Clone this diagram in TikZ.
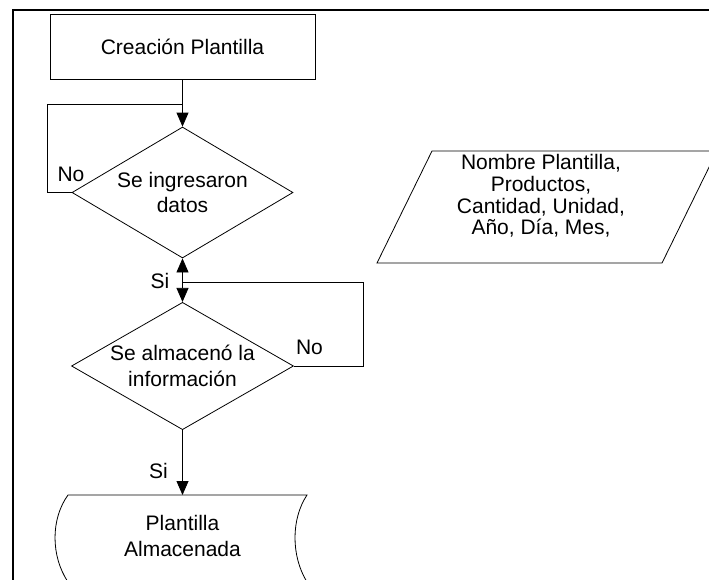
\documentclass[tikz,border=0pt]{standalone}
\usepackage{fontspec}
\setmainfont{Liberation Sans}
\usetikzlibrary{shapes.geometric,arrows.meta}
\begin{document}
\begin{tikzpicture}[x=1pt,y=-1pt,
  every node/.style={font=\fontsize{21}{24}\selectfont, inner sep=0pt},
  procbox/.style={draw, line width=0.8pt, minimum width=265pt, minimum height=65pt},
  decision/.style={draw, diamond, aspect=1.69, line width=0.8pt, align=center},
  flow/.style={line width=0.8pt},
  tip/.style={-{Triangle[length=14pt,width=12pt]}},
  ]
\useasboundingbox (0,0) rectangle (709,579);
\clip (0,0) rectangle (709,579);
% frame
\draw[line width=2pt] (13,585) -- (13,10) -- (715,10);
% nodes
\node[procbox] (start) at (182.5,46.5) {Creación Plantilla};
\node[decision, minimum width=221pt, minimum height=131pt, font=\fontsize{21}{25}\selectfont] (d1) at (182.5,192.5) {Se ingresaron\\datos};
\node[decision, minimum width=222pt, minimum height=126pt, font=\fontsize{21}{26}\selectfont] (d2) at (182.5,366) {Se almacenó la\\información};
\coordinate (j1) at (182.5,104);
\coordinate (j2) at (182.5,282);
\coordinate (storetop) at (182.5,495);
% data parallelogram
\draw[flow] (432,151) -- (717,151) -- (662,263) -- (377,263) -- cycle;
\node[align=center, font=\fontsize{21}{21.7}\selectfont] (data) at (541,196) {Nombre Plantilla,\\Productos,\\Cantidad, Unidad,\\Año, Día, Mes,};
% stored data shape
\draw[flow] (68,582) .. controls (50.7,556) and (50.7,519) .. (68,495) -- (307,495) .. controls (291,519) and (291,556) .. (307,582);
\node[align=center, font=\fontsize{21}{26}\selectfont] (store) at (182.5,536) {Plantilla\\Almacenada};
% connectors
\draw[flow,tip] (start) -- (d1);
\draw[flow] (d1.west) -- ++(-24,0) |- (j1);
\draw[flow] (d2.east) -- ++(69,0) |- (j2);
\draw[flow,tip] (j2) -- (d1.south);
\draw[flow,tip] (j2) -- (d2.north);
\draw[flow,tip] (d2) -- (storetop);
% labels
\node (no1) at (71,174) {No};
\node (no2) at (309.5,347) {No};
\node (si1) at (160,281) {Si};
\node (si2) at (158.5,471) {Si};
\end{tikzpicture}
\end{document}
